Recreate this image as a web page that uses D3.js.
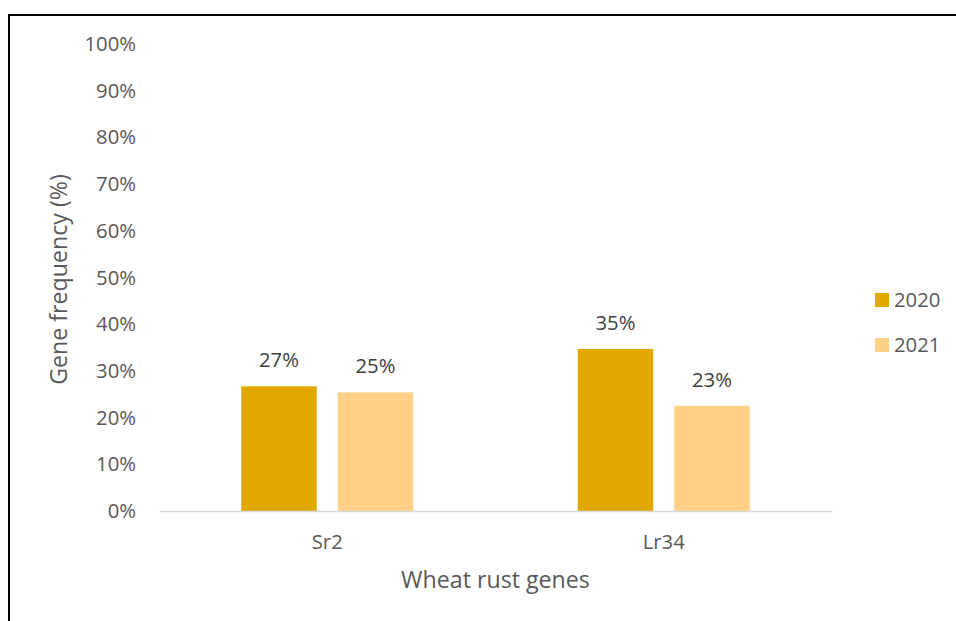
<!DOCTYPE html>
<html>
<head>
<meta charset="utf-8">
<script src="https://cdn.jsdelivr.net/npm/d3@7"></script>
<style>
  html, body { margin: 0; padding: 0; background: #fff; }
  svg { display: block; }
  text { font-family: "Open Sans", "Noto Sans", sans-serif; }
</style>
</head>
<body>
<svg id="chart" width="956" height="621"></svg>
<script>
// Gene frequency by wheat rust resistance gene and survey year
const categories = ["Sr2", "Lr34"];
const seriesNames = ["2020", "2021"];
const values2020 = [0.267, 0.347];
const values2021 = [0.254, 0.225];
const yTicks = [0, 0.1, 0.2, 0.3, 0.4, 0.5, 0.6, 0.7, 0.8, 0.9, 1.0];
const colors = ["#E1A800", "#FFD086"];

const seriesValues = [values2020, values2021];
const rows = categories.map((c, i) => ({
  category: c,
  bars: seriesNames.map((s, j) => ({ series: s, value: seriesValues[j][i], color: colors[j] }))
}));

const FONT = '"Open Sans", "Noto Sans", sans-serif';
const LABEL_SIZE = 20.3;
const TITLE_SIZE = 23.2;
const svg = d3.select("#chart");

// outer frame (extends past the right and bottom edges)
svg.append("rect")
  .attr("x", 9).attr("y", 15)
  .attr("width", 1000).attr("height", 700)
  .attr("fill", "none").attr("stroke", "#000").attr("stroke-width", 2);

const plot = { left: 159, right: 832, top: 44, bottom: 511 };

const y = d3.scaleLinear().domain([0, 1]).range([plot.bottom, plot.top]);
const x0 = d3.scaleBand().domain(categories).range([plot.left, plot.right]).padding(0);
const groupWidth = 172;
const x1 = d3.scaleBand().domain(seriesNames).range([0, groupWidth]).paddingInner(0.218).paddingOuter(0);
const groupOffset = (x0.bandwidth() - groupWidth) / 2;

// y axis labels (no axis line, no ticks)
const yAxis = d3.axisLeft(y).tickValues(yTicks).tickFormat(d3.format(".0%")).tickSize(0).tickPadding(0);
const yg = svg.append("g").attr("transform", `translate(${136},0)`).call(yAxis);
yg.select(".domain").remove();
yg.selectAll("text")
  .attr("fill", "#595959").attr("font-size", LABEL_SIZE)
  .style("font-family", FONT);

// bars
const groups = svg.append("g").selectAll("g")
  .data(rows).join("g")
  .attr("transform", d => `translate(${x0(d.category) + groupOffset},0)`);

groups.selectAll("rect")
  .data(d => d.bars).join("rect")
  .attr("x", d => x1(d.series))
  .attr("y", d => y(d.value))
  .attr("width", x1.bandwidth())
  .attr("height", d => y(0) - y(d.value))
  .attr("fill", d => d.color);

// value labels
groups.selectAll("text.val")
  .data(d => d.bars).join("text")
  .attr("class", "val")
  .attr("x", d => x1(d.series) + x1.bandwidth() / 2)
  .attr("y", d => y(d.value) - 19)
  .attr("text-anchor", "middle")
  .attr("fill", "#404040").attr("font-size", LABEL_SIZE)
  .text(d => d3.format(".0%")(d.value));

// category axis
const xAxis = d3.axisBottom(x0).tickSize(0).tickPadding(0);
const xg = svg.append("g").attr("transform", `translate(0,${plot.bottom})`).call(xAxis);
xg.select(".domain").attr("stroke", "#D9D9D9").attr("stroke-width", 1.5);
xg.selectAll("text")
  .attr("dy", 0).attr("y", 38)
  .attr("fill", "#595959").attr("font-size", LABEL_SIZE)
  .style("font-family", FONT);

// axis titles
svg.append("text")
  .attr("transform", `translate(67,${(plot.top + plot.bottom) / 2 + 2}) rotate(-90)`)
  .attr("text-anchor", "middle")
  .attr("fill", "#595959").attr("font-size", TITLE_SIZE)
  .text("Gene frequency (%)");

svg.append("text")
  .attr("x", (plot.left + plot.right) / 2).attr("y", 588)
  .attr("text-anchor", "middle")
  .attr("fill", "#595959").attr("font-size", TITLE_SIZE)
  .text("Wheat rust genes");

// legend
const legend = svg.append("g").selectAll("g")
  .data(seriesNames).join("g")
  .attr("transform", (d, i) => `translate(875,${293 + i * 45})`);
legend.append("rect").attr("width", 14).attr("height", 14).attr("fill", (d, i) => colors[i]);
legend.append("text").attr("x", 19).attr("y", 14)
  .attr("fill", "#595959").attr("font-size", LABEL_SIZE).text(d => d);
</script>
</body>
</html>
